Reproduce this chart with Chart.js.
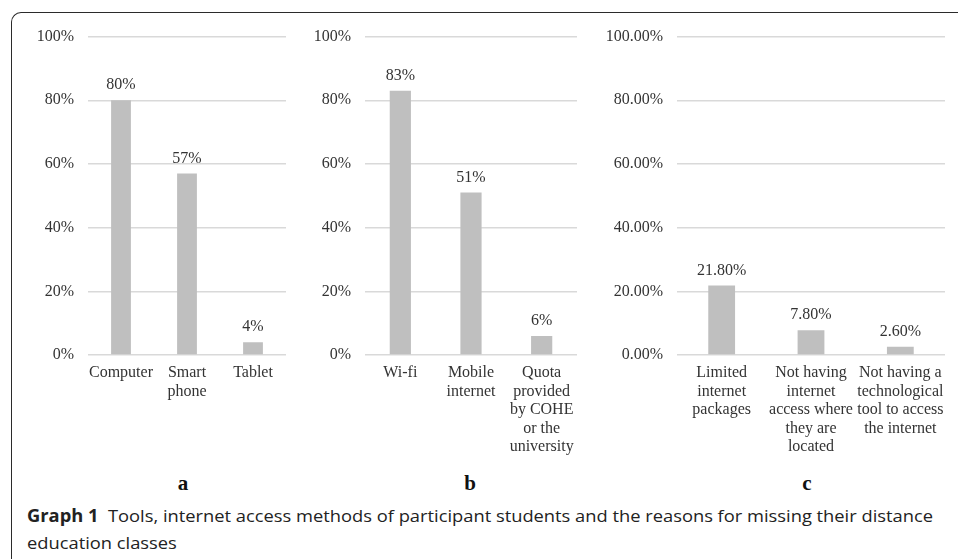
<!DOCTYPE html>
<html>
<head>
<meta charset="utf-8">
<script src="https://cdn.jsdelivr.net/npm/chart.js@4/dist/chart.umd.min.js"></script>
<style>
  html, body { margin: 0; padding: 0; background: #fff; }
  body { width: 958px; height: 559px; position: relative; overflow: hidden; }
  .frame { position: absolute; left: 11px; top: 12px; width: 1000px; height: 600px;
           border-top: 1.5px solid #2b2b2b; border-left: 1.5px solid #2b2b2b; border-top-left-radius: 10px; }
  .box { position: absolute; top: 13px; height: 447px; }
  .letter { position: absolute; top: 471px; font: bold 21px "Liberation Serif", serif; color: #111; transform: translateX(-50%); }
  #caption { position: absolute; left: 27px; top: 502px; font: 17px "Open Sans", sans-serif; color: #222;
             transform-origin: 0 0; white-space: nowrap; line-height: 27px; }
  #caption b { font-weight: 700; }
</style>
</head>
<body>
<div class="frame"></div>
<div class="box" style="left:20px;width:280px"><canvas id="chartA"></canvas></div>
<div class="box" style="left:300px;width:290px"><canvas id="chartB"></canvas></div>
<div class="box" style="left:600px;width:358px"><canvas id="chartC"></canvas></div>
<div class="letter" style="left:183px">a</div>
<div class="letter" style="left:470px">b</div>
<div class="letter" style="left:807px">c</div>
<div id="caption"><span id="line1"><b>Graph 1</b>&nbsp; Tools, internet access methods of participant students and the reasons for missing their distance</span><br><span>education classes</span></div>
<script>
(()=>{
    // graph a: tools
    const toolLabels = ["Computer", ["Smart", "phone"], "Tablet"];
    const toolValues = [80, 57, 4];
    // graph b: internet access
    const accessLabels = ["Wi-fi", ["Mobile", "internet"], ["Quota", "provided", "by COHE", "or the", "university"]];
    const accessValues = [83, 51, 6];
    // graph c: reasons for missing classes
    const reasonLabels = [["Limited", "internet", "packages"],
        ["Not having", "internet", "access where", "they are", "located"],
        ["Not having a", "technological", "tool to access", "the internet"]];
    const reasonValues = [21.8, 7.8, 2.6];

    const FONT = "'Liberation Serif', 'Times New Roman', serif";
    const TEXT = '#333333';

    const valueLabels = {
        id: 'valueLabels',
        afterDatasetsDraw(chart, args, opts) {
            const ctx = chart.ctx;
            const meta = chart.getDatasetMeta(0);
            const data = chart.data.datasets[0].data;
            ctx.save();
            ctx.font = '16px ' + FONT;
            ctx.fillStyle = TEXT;
            ctx.textAlign = 'center';
            ctx.textBaseline = 'bottom';
            meta.data.forEach((bar, i) => {
                ctx.fillText(opts.fmt(data[i]), bar.x, bar.y - 7);
            });
            ctx.restore();
        }
    };

    const makeChart = (id, labels, values, yWidth, rightPad, fmt) => {
        return new Chart(document.getElementById(id), {
            type: 'bar',
            data: {
                labels: labels,
                datasets: [{
                    data: values,
                    backgroundColor: '#bfbfbf',
                    categoryPercentage: 1,
                    barPercentage: 0.3
                }]
            },
            options: {
                responsive: true,
                maintainAspectRatio: false,
                animation: false,
                layout: { padding: { top: 9, right: rightPad, bottom: 0, left: 0 } },
                plugins: {
                    legend: { display: false },
                    tooltip: { enabled: false },
                    valueLabels: { fmt: fmt }
                },
                scales: {
                    x: {
                        grid: { display: false, drawTicks: false },
                        border: { display: false },
                        ticks: {
                            autoSkip: false, maxRotation: 0, padding: 9,
                            color: TEXT, font: { family: FONT, size: 16, lineHeight: 1.15 }
                        },
                        afterFit: (scale) => { scale.height = 105; }
                    },
                    y: {
                        min: 0, max: 100,
                        grid: { color: '#d9d9d9', lineWidth: 1.5, drawTicks: false },
                        border: { display: false },
                        ticks: {
                            stepSize: 20, padding: 14, color: TEXT,
                            font: { family: FONT, size: 16 },
                            callback: (v) => fmt(v)
                        },
                        afterFit: (scale) => { scale.width = yWidth; }
                    }
                }
            },
            plugins: [valueLabels]
        });
    };

    makeChart('chartA', toolLabels, toolValues, 68, 14, (v) => Math.round(v) + '%');
    makeChart('chartB', accessLabels, accessValues, 65, 13, (v) => Math.round(v) + '%');
    makeChart('chartC', reasonLabels, reasonValues, 77, 13, (v) => v.toFixed(2) + '%');

    // squeeze the caption to the width of the original
    const line1 = document.getElementById('line1');
    const cap = document.getElementById('caption');
    const w = line1.getBoundingClientRect().width;
    cap.style.transform = 'scaleX(' + (906 / w) + ')';
})()
</script>
</body>
</html>
